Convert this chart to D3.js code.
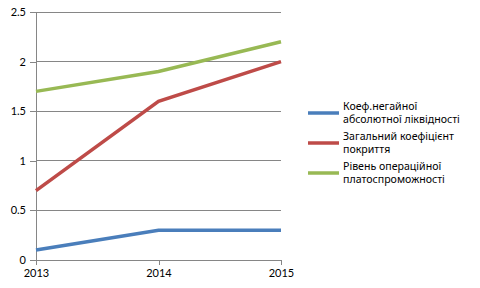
<!DOCTYPE html>
<html><head><meta charset="utf-8">
<script src="https://cdn.jsdelivr.net/npm/d3@7"></script>
<style>body{margin:0;background:#fff}svg{display:block}text{font-family:"Noto Sans","Open Sans",sans-serif;fill:#000}</style>
</head><body>
<svg id="c" width="480" height="288"></svg>
<script>
const years = ["2013","2014","2015"];
const seriesNames = [["Коеф.негайної","абсолютної ліквідності"],["Загальний коефіцієнт","покриття"],["Рівень операційної","платоспроможності"]];
const blueValues = [0.1, 0.3, 0.3];
const redValues = [0.7, 1.6, 2.0];
const greenValues = [1.7, 1.9, 2.2];
const yTicks = [0, 0.5, 1, 1.5, 2, 2.5];
const colors = ["#4a7ebb", "#be4b48", "#98b954"];
const series = [blueValues, redValues, greenValues];

const svg = d3.select("#c");
const x = d3.scalePoint().domain(years).range([36, 281]);
const y = d3.scaleLinear().domain([0, 2.5]).range([260, 12]);

svg.append("g").selectAll("line").data(yTicks.filter(d=>d>0)).join("line")
  .attr("x1", 36).attr("x2", 281).attr("y1", d=>y(d)).attr("y2", d=>y(d))
  .attr("stroke", "#868686").attr("stroke-width", 1).attr("shape-rendering","crispEdges");

const yAxis = svg.append("g").attr("transform","translate(36,0)")
  .call(d3.axisLeft(y).tickValues(yTicks).tickSize(6).tickPadding(4).tickFormat(d3.format("")));
const xAxis = svg.append("g").attr("transform","translate(0,260)")
  .call(d3.axisBottom(x).tickSize(5).tickPadding(4));
[yAxis, xAxis].forEach(a=>{
  a.select(".domain").attr("stroke","#868686").attr("shape-rendering","crispEdges");
  a.selectAll(".tick line").attr("stroke","#868686").attr("shape-rendering","crispEdges");
  a.selectAll("text").attr("font-size", 11).style("font-family","Lato,'Open Sans',sans-serif").attr("fill","#000");
});
xAxis.select(".domain").attr("d","M36,0.5H281");

const line = d3.line().x((d,i)=>x(years[i])).y(d=>y(d));
series.forEach((s,i)=>{
  svg.append("path").attr("d", line(s)).attr("fill","none")
    .attr("stroke", colors[i]).attr("stroke-width", 3.5);
});

const lg = svg.append("g");
const legY = [113, 143, 173];
seriesNames.forEach((n,i)=>{
  lg.append("line").attr("x1",308).attr("x2",339).attr("y1",legY[i]).attr("y2",legY[i])
    .attr("stroke",colors[i]).attr("stroke-width",3.5);
  const t = lg.append("text").attr("x",343).attr("y",legY[i]-3).attr("font-size",10.6);
  t.append("tspan").attr("x",343).text(n[0]);
  t.append("tspan").attr("x",343).attr("dy",13).text(n[1]);
});
</script>
</body></html>
